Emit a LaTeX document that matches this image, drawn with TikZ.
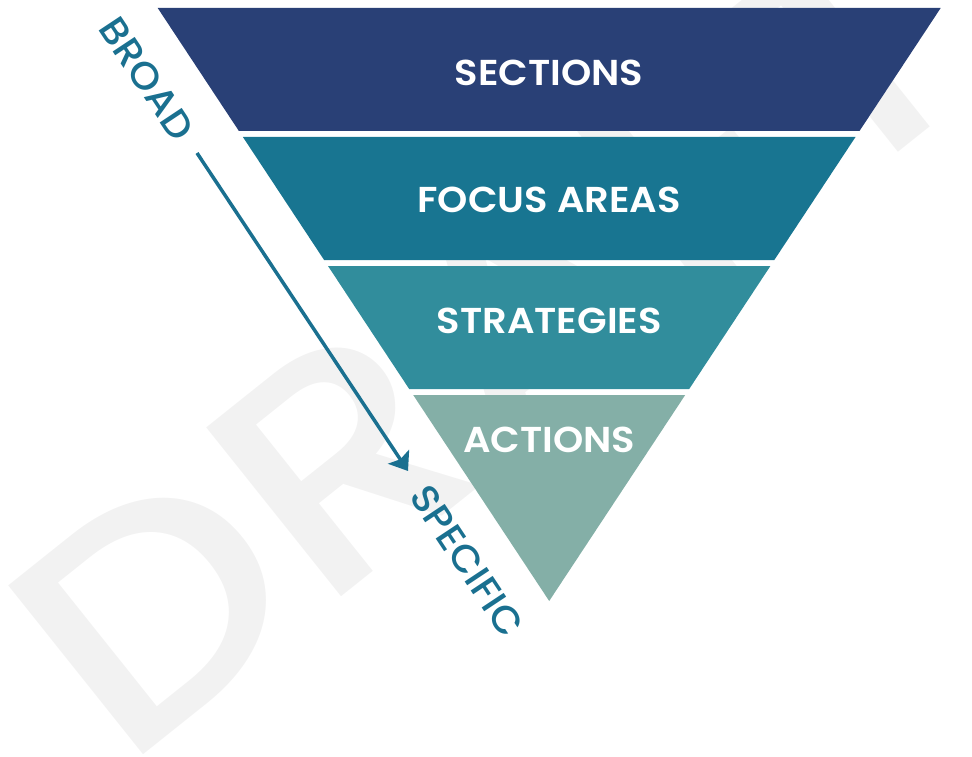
\documentclass[tikz,border=0pt]{standalone}
\usepackage{fontspec}
\usetikzlibrary{arrows.meta}
\newfontfamily\lblfont{Poppins SemiBold}[FakeStretch=1.07]
\newfontfamily\sidefont{Poppins Medium}[FakeStretch=1.05]
\newfontfamily\wmfont{Poppins Medium}[FakeStretch=1.15]
\definecolor{bandA}{HTML}{294076}
\definecolor{bandB}{HTML}{187591}
\definecolor{bandC}{HTML}{318D9C}
\definecolor{bandD}{HTML}{84AFA7}
\definecolor{tealtxt}{HTML}{1A7090}
\definecolor{wmgray}{HTML}{F2F2F2}
\tikzset{
  wm/.style={font=\wmfont\fontsize{311}{311}\selectfont, text=wmgray, inner sep=0pt, anchor=base west, rotate=38.6},
  bandlabel/.style={font=\lblfont\fontsize{36}{40}\selectfont, text=white, inner sep=0pt},
  sidelabel/.style={font=\sidefont\fontsize{38}{40}\selectfont, text=tealtxt, inner sep=0pt, rotate=-56.4},
  flow/.style={draw=tealtxt, line width=3.5pt, -{Stealth[length=17pt,width=25pt,inset=3pt]}}
}
\begin{document}
\begin{tikzpicture}[x=1pt,y=-1pt]
\useasboundingbox (0,0) rectangle (972,757);
\node[wm] (draft) at (122,772) {DRAFT};
\fill[bandA] (157.7,8) -- (940.7,8) -- (859.5,131) -- (238.9,131) -- cycle;
\fill[bandB] (242.9,137) -- (855.5,137) -- (774.3,260) -- (324.1,260) -- cycle;
\fill[bandC] (328.0,266) -- (770.4,266) -- (689.2,389) -- (409.2,389) -- cycle;
\fill[bandD] (413.2,395) -- (685.2,395) -- (549.2,601) -- cycle;
\node[bandlabel] (sections) at (549.2,73) {SECTIONS};
\node[bandlabel] (focus) at (549.2,200) {FOCUS AREAS};
\node[bandlabel] (strategies) at (549.2,321) {STRATEGIES};
\node[bandlabel] (actions) at (549.2,440) {ACTIONS};
\node[sidelabel] (broad) at (147,79) {BROAD};
\node[sidelabel] (specific) at (467,561) {SPECIFIC};
\coordinate (astart) at (197,153);
\coordinate (aend) at (408,471);
\draw[flow] (astart) -- (aend);
\end{tikzpicture}
\end{document}
